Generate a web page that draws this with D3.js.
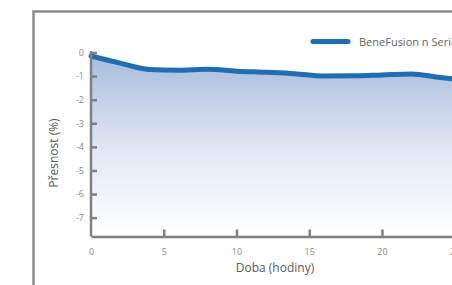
<!DOCTYPE html>
<html>
<head>
<meta charset="utf-8">
<script src="https://cdn.jsdelivr.net/npm/d3@7"></script>
<style>
  body { margin: 0; background: #fff; }
  svg { display: block; font-family: 'Open Sans', sans-serif; }
</style>
</head>
<body>
<svg id="chart"></svg>
<script>
// hours and accuracy (%)
const hours = [0, 2, 4, 6, 8, 10, 12, 14, 16, 18, 20, 22, 24, 26];
const accuracy = [-0.15, -0.45, -0.72, -0.75, -0.71, -0.79, -0.84, -0.9, -1.0, -0.99, -0.95, -0.91, -1.06, -1.2];
const xTicks = [0, 5, 10, 15, 20, 25];
const yTicks = [0, -1, -2, -3, -4, -5, -6, -7];
const seriesName = 'BeneFusion n Series';

const data = hours.map((h, i) => ({ x: h, y: accuracy[i] }));

const width = 452, height = 285;
const svg = d3.select('#chart')
  .attr('width', width)
  .attr('height', height);

// outer frame (runs off the right and bottom)
svg.append('rect')
  .attr('x', 33.5).attr('y', 11.5)
  .attr('width', 500).attr('height', 400)
  .attr('fill', 'none')
  .attr('stroke', '#8c8c8c')
  .attr('stroke-width', 2.5);

const x = d3.scaleLinear().domain([0, 26]).range([91, 91 + 26 * 14.55]);
const y = d3.scaleLinear().domain([0, -7.8]).range([52.5, 236.5]);

const defs = svg.append('defs');
const grad = defs.append('linearGradient')
  .attr('id', 'fillGrad')
  .attr('gradientUnits', 'userSpaceOnUse')
  .attr('x1', 0).attr('x2', 0)
  .attr('y1', y(0)).attr('y2', y(-7.8));
grad.append('stop').attr('offset', '0%').attr('stop-color', '#a6badd');
grad.append('stop').attr('offset', '55%').attr('stop-color', '#e3e9f4');
grad.append('stop').attr('offset', '100%').attr('stop-color', '#ffffff');

const area = d3.area()
  .x(d => x(d.x))
  .y0(y(-7.8))
  .y1(d => y(d.y))
  .curve(d3.curveMonotoneX);

const line = d3.line()
  .x(d => x(d.x))
  .y(d => y(d.y))
  .curve(d3.curveMonotoneX);

svg.append('path')
  .datum(data)
  .attr('d', area)
  .attr('fill', 'url(#fillGrad)');

svg.append('path')
  .datum(data)
  .attr('d', line)
  .attr('fill', 'none')
  .attr('stroke', '#1f6db3')
  .attr('stroke-width', 5)
  .attr('stroke-linecap', 'round');

// axes
const axisColor = '#808080';
const xAxis = svg.append('g')
  .attr('transform', `translate(0,${y(-7.8)})`)
  .call(d3.axisBottom(x).tickValues(xTicks).tickSizeInner(-7).tickSizeOuter(0).tickPadding(12));
xAxis.select('.domain').attr('stroke', axisColor).attr('stroke-width', 2.5);
xAxis.selectAll('.tick line').attr('stroke', axisColor).attr('stroke-width', 2.5);
xAxis.selectAll('.tick').filter(d => d === 0).select('line').remove();
xAxis.selectAll('text').attr('fill', '#8a8a8a').attr('font-size', 9).attr('font-family', "'Open Sans', sans-serif");

const yAxis = svg.append('g')
  .attr('transform', `translate(${x(0)},0)`)
  .call(d3.axisLeft(y).tickValues(yTicks).tickFormat(d => String(d))
    .tickSizeInner(-6).tickSizeOuter(0).tickPadding(7));
yAxis.select('.domain').attr('stroke', axisColor).attr('stroke-width', 2.5)
  .attr('d', `M0,${y(0) - 1.5}V${y(-7.8)}`);
yAxis.selectAll('.tick line').attr('stroke', axisColor).attr('stroke-width', 2.5);
yAxis.selectAll('text').attr('fill', '#8a8a8a').attr('font-size', 9).attr('font-family', "'Open Sans', sans-serif");

// axis titles
svg.append('text')
  .attr('x', 275).attr('y', 272)
  .attr('text-anchor', 'middle')
  .attr('font-size', 12)
  .attr('fill', '#5a5a5a')
  .text('Doba (hodiny)');

svg.append('text')
  .attr('transform', `translate(58,153) rotate(-90)`)
  .attr('text-anchor', 'middle')
  .attr('font-size', 12)
  .attr('fill', '#5a5a5a')
  .text('Přesnost (%)');

// legend
svg.append('line')
  .attr('x1', 313).attr('x2', 348)
  .attr('y1', 41.5).attr('y2', 41.5)
  .attr('stroke', '#1f6db3')
  .attr('stroke-width', 5)
  .attr('stroke-linecap', 'round');
svg.append('text')
  .attr('x', 359).attr('y', 45.5)
  .attr('font-size', 11)
  .attr('fill', '#666')
  .text(seriesName);
</script>
</body>
</html>
